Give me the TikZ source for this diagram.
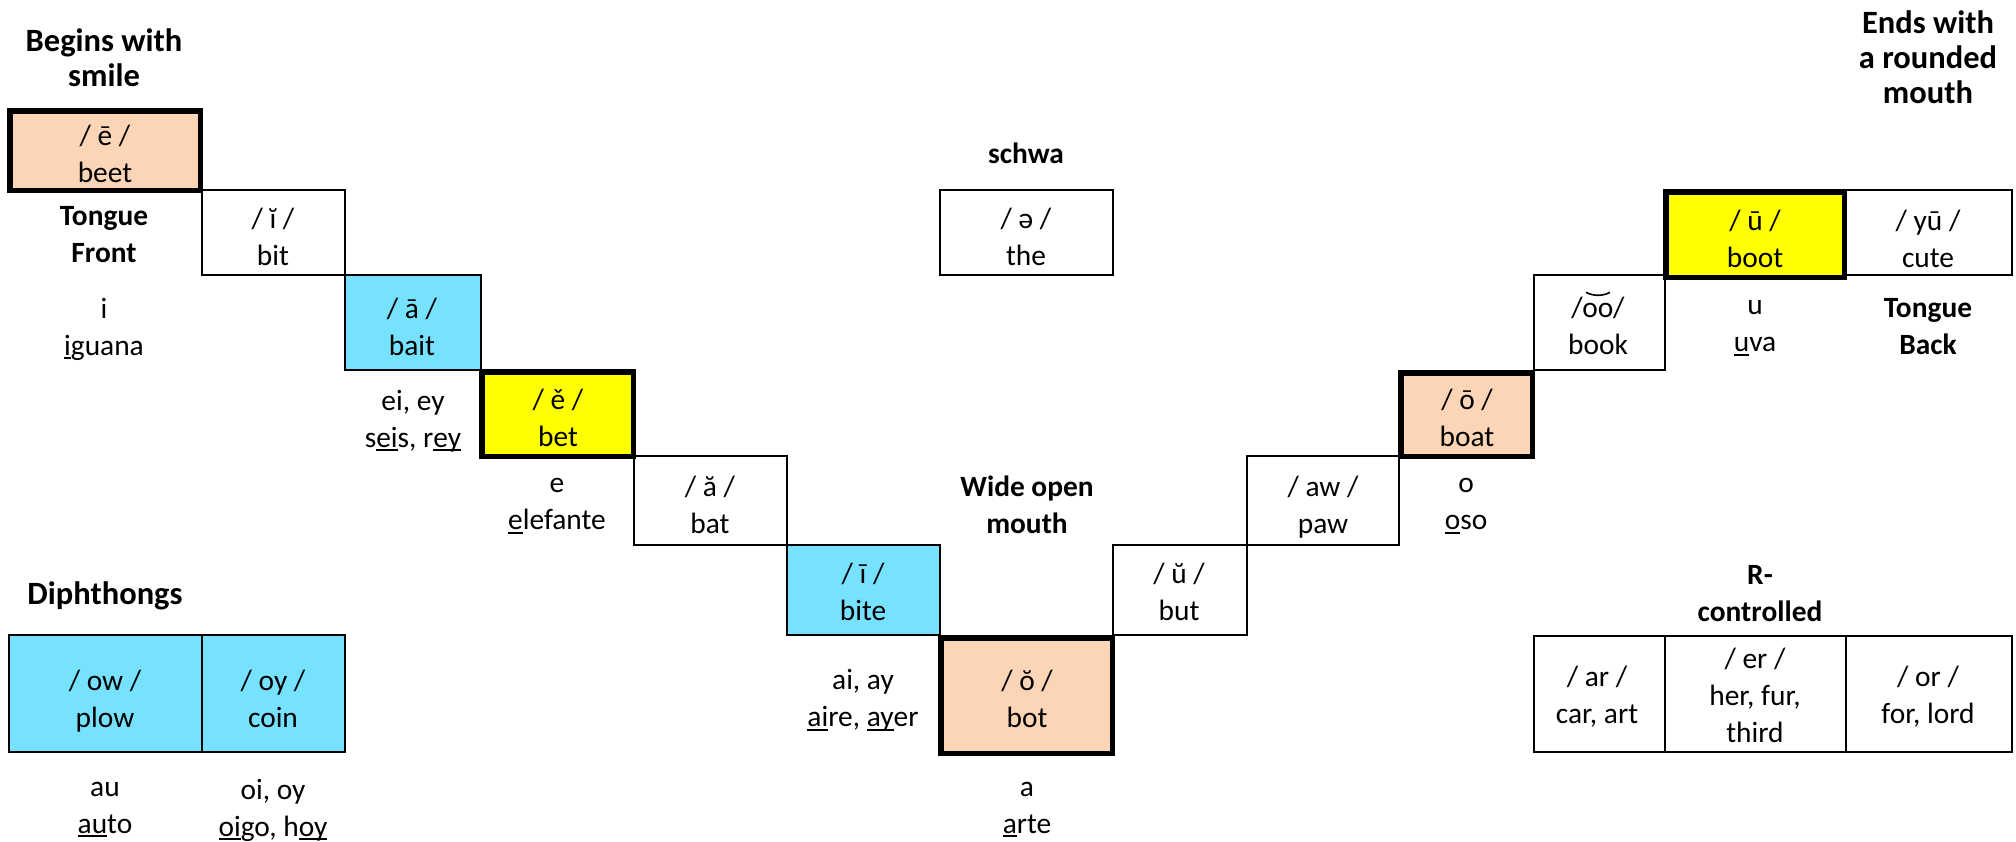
\documentclass[tikz,border=0pt]{standalone}
\usepackage{fontspec}
\setmainfont{Carlito}
\usetikzlibrary{calc}
\definecolor{peach}{RGB}{251,213,181}
\definecolor{skyc}{RGB}{118,226,255}
\definecolor{yel}{RGB}{255,255,0}
\newcommand\ulx[1]{\setbox0\hbox{#1}\rlap{\rule[-4pt]{\wd0}{2pt}}\box0}
\tikzset{
  txt/.style={align=center, inner sep=0pt, outer sep=0pt, text depth=0pt, font=\fontsize{29.4}{37}\selectfont},
  btxt/.style={txt, font=\fontsize{29.4}{37}\selectfont\bfseries},
  bigtxt/.style={txt, font=\fontsize{32.5}{35}\selectfont\bfseries},
  thinbox/.style={draw=black, line width=2pt, inner sep=0pt, outer sep=0pt, rectangle},
  thickbox/.style={draw=black, line width=5.5pt, inner sep=0pt, outer sep=0pt, rectangle},
}
\begin{document}
\begin{tikzpicture}[x=1pt,y=-1pt]
\useasboundingbox[fill=white] (0,0) rectangle (2016,841);
% thin boxes
\node[thinbox, minimum width=143pt, minimum height=85pt] (bIs) at (273.5,232.5) {};
\node[thinbox, fill=skyc, minimum width=136pt, minimum height=95pt] (bA) at (413,322.5) {};
\node[thinbox, minimum width=153pt, minimum height=89pt] (bAs) at (710.5,500.5) {};
\node[thinbox, fill=skyc, minimum width=153pt, minimum height=90pt] (bI) at (863.5,590) {};
\node[thinbox, minimum width=173pt, minimum height=85pt] (bSchwa) at (1026.5,232.5) {};
\node[thinbox, minimum width=134pt, minimum height=90pt] (bUs) at (1180,590) {};
\node[thinbox, minimum width=152pt, minimum height=89pt] (bAw) at (1323,500.5) {};
\node[thinbox, minimum width=131pt, minimum height=95pt] (bOo) at (1599.5,322.5) {};
\node[thinbox, minimum width=166pt, minimum height=85pt] (bYu) at (1929,232.5) {};
\node[thinbox, fill=skyc, minimum width=193pt, minimum height=117pt] (bOw) at (105.5,693.5) {};
\node[thinbox, fill=skyc, minimum width=143pt, minimum height=117pt] (bOy) at (273.5,693.5) {};
\node[thinbox, minimum width=131pt, minimum height=116pt] (bAr) at (1599.5,694) {};
\node[thinbox, minimum width=181pt, minimum height=116pt] (bEr) at (1755.5,694) {};
\node[thinbox, minimum width=166pt, minimum height=116pt] (bOr) at (1929,694) {};
% thick boxes
\node[thickbox, fill=peach, minimum width=190.5pt, minimum height=79.5pt] (bE) at (105,150.5) {};
\node[thickbox, fill=yel, minimum width=151.5pt, minimum height=84.5pt] (bEs) at (557.5,414) {};
\node[thickbox, fill=peach, minimum width=171.5pt, minimum height=115.5pt] (bO) at (1026.5,695.5) {};
\node[thickbox, fill=peach, minimum width=131.5pt, minimum height=83.5pt] (bOl) at (1466.5,414.5) {};
\node[thickbox, fill=yel, minimum width=178.5pt, minimum height=85.5pt] (bU) at (1755,234.5) {};
% headings
\node[bigtxt] (tBegins) at (104,57.5) {Begins with\\smile};
\node[bigtxt] (tEnds) at (1928,57.5) {Ends with\\a rounded\\mouth};
\node[btxt] (tSchwa) at (1026,153) {schwa};
\node[btxt] (tTF) at (104,234) {Tongue\\Front};
\node[btxt] (tTB) at (1928,326) {Tongue\\Back};
\node[btxt] (tWide) at (1027,504.5) {Wide open\\mouth};
\node[bigtxt] (tDiph) at (105,593) {Diphthongs};
\node[btxt] (tR) at (1760,593.5) {R-\\controlled};
% box texts
\node[txt] (tE) at (105,153.5) {/ ē /\\beet};
\node[txt] (tIs) at (273,236.5) {/ ĭ /\\bit};
\node[txt] (tA) at (412,326.5) {/ ā /\\bait};
\node[txt] (tEs) at (558,417.5) {/ ě /\\bet};
\node[txt] (tAs) at (710,505) {/ ă /\\bat};
\node[txt] (tI) at (863,591.5) {/ ī /\\bite};
\node[txt] (tO) at (1027,698.5) {/ ŏ /\\bot};
\node[txt] (tUs) at (1179,591.5) {/ ŭ /\\but};
\node[txt] (tAw) at (1323,505) {/ aw /\\paw};
\node[txt] (tOl) at (1467,417.5) {/ ō /\\boat};
\node[txt] (tOo) at (1598,326) {/oo/\\book};
\node[txt] (tU) at (1755,238.5) {/ ū /\\boot};
\node[txt] (tYu) at (1928,238.5) {/ yū /\\cute};
\node[txt] (tSch) at (1026,237) {/ ə /\\the};
\node[txt] (tOw) at (105,698.5) {/ ow /\\plow};
\node[txt] (tOy) at (273,698.5) {/ oy /\\coin};
\node[txt] (tAr) at (1597,695) {/ ar /\\car, art};
\node[txt] (tEr) at (1755,695.5) {/ er /\\her, fur,\\third};
\node[txt] (tOr) at (1928,695) {/ or /\\for, lord};
% spelling examples
\node[txt] (xI) at (104,326.5) {i\\\ulx{i}guana};
\node[txt] (xA) at (413,418.5) {ei, ey\\s\ulx{ei}s, r\ulx{ey}};
\node[txt] (xE) at (557,504) {e\\\ulx{e}lefante};
\node[txt] (xAi) at (863,698) {ai, ay\\\ulx{ai}re, \ulx{ay}er};
\node[txt] (xO) at (1027,807.5) {a\\\ulx{a}rte};
\node[txt] (xOl) at (1466,504) {o\\\ulx{o}so};
\node[txt] (xU) at (1755,326) {u\\\ulx{u}va};
\node[txt] (xOw) at (105,807.5) {au\\\ulx{au}to};
\node[txt] (xOy) at (273,807.5) {oi, oy\\\ulx{oi}go, h\ulx{oy}};
% double breve over oo
\draw[line width=1.6pt] ($(tOo.north)+(-12,-5)$) .. controls ($(tOo.north)+(-5,-1)$) and ($(tOo.north)+(5,-1)$) .. ($(tOo.north)+(12,-5)$);
\end{tikzpicture}
\end{document}
